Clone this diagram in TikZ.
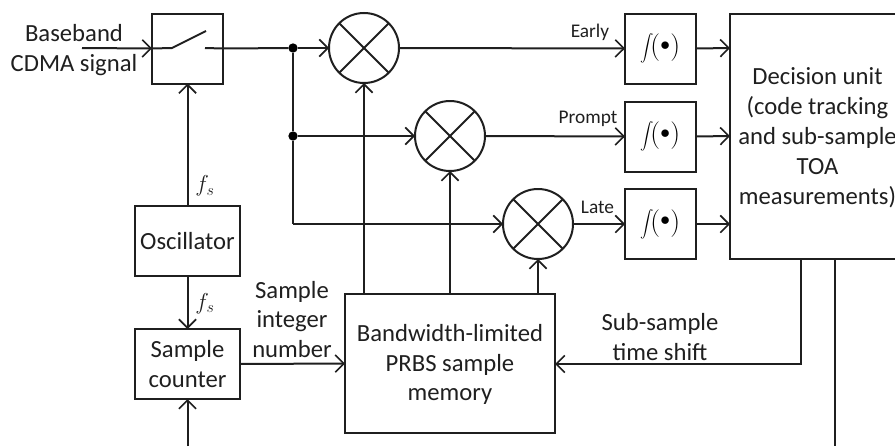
\documentclass[tikz,border=0pt]{standalone}
\usepackage{fontspec}
\setmainfont{Carlito}
\usetikzlibrary{arrows.meta}
\tikzset{
  x=0.75pt,y=-0.75pt,
  wire/.style={line width=1.5pt,draw=black!88},
  arr/.style={wire,-{Straight Barb[length=6.5pt,width=13pt,line width=1.2pt]}},
  blockbox/.style={draw=black!88,line width=1.5pt,minimum width=#1,inner sep=0pt,outer sep=0pt,align=center},
  mixer/.style={circle,draw=black!88,line width=1.5pt,minimum size=52.5pt,inner sep=0pt,outer sep=0pt},
  bigtext/.style={font=\fontsize{18.5}{22}\selectfont,text=black!88,align=center,inner sep=0pt},
  widetext/.style={font=\fontsize{18.5}{22.5}\selectfont,text=black!88,align=center,inner sep=0pt},
  smalltext/.style={font=\fontsize{14.5}{16}\selectfont,text=black!88,inner sep=0pt},
  dotn/.style={circle,fill=black,minimum size=7pt,inner sep=0pt,outer sep=0pt},
  fslabel/.style={text=black!88,inner sep=0pt,font=\fontsize{18}{22}\selectfont},
}
\newcommand{\integ}{{\fontsize{11}{12}\selectfont$\displaystyle\int$}\kern-3pt\raisebox{-2pt}{\fontsize{20}{20}\selectfont$($}\kern0.2pt\raisebox{1.5pt}{\scalebox{0.7}{\fontsize{20}{20}\selectfont$\bullet$}}\kern0.2pt\raisebox{-2pt}{\fontsize{20}{20}\selectfont$)$}}
\newcommand{\fsym}{$f_s$}
\begin{document}
\begin{tikzpicture}
\useasboundingbox (0,0) rectangle (895,446);
% blocks
\node[blockbox=53.25pt,minimum height=52.5pt] (sw) at (187.5,48.5) {};
\node[blockbox=78.75pt,minimum height=52.5pt,widetext] (osc) at (187.5,241) {Oscillator};
\node[blockbox=78.75pt,minimum height=52.5pt,widetext] (cnt) at (187.5,364) {Sample\\counter};
\node[blockbox=157.5pt,minimum height=104.25pt] (mem) at (450,363.5) {};
\node[bigtext] (memt) at (450,364.5) {Bandwidth-limited\\PRBS sample\\memory};
\node[blockbox=53.25pt,minimum height=52.5pt] (i1) at (660.5,48.5) {\integ};
\node[blockbox=53.25pt,minimum height=52.5pt] (i2) at (660.5,136.5) {\integ};
\node[blockbox=53.25pt,minimum height=52.5pt] (i3) at (660.5,224) {\integ};
% decision unit, open at the picture's right edge
\coordinate (dtr) at (895,14);
\coordinate (dtl) at (730,14);
\coordinate (dbl) at (730,258.5);
\coordinate (dbr) at (895,258.5);
\draw[wire] (dtr) -- (dtl) -- (dbl) -- (dbr);
\node[widetext] (dec) at (817.5,138) {Decision unit\\(code tracking\\and sub-sample\\TOA\\measurements)};
\coordinate (d1) at (730,48);
\coordinate (d2) at (730,136);
\coordinate (d3) at (730,224);
% mixers
\node[mixer] (m1) at (364,48) {};
\node[mixer] (m2) at (450,136) {};
\node[mixer] (m3) at (538,224) {};
\foreach \m in {m1,m2,m3}{
  \draw[wire] (\m.45) -- (\m.225);
  \draw[wire] (\m.135) -- (\m.315);
}
% switch
\coordinate (swin) at (172,48);
\coordinate (swarm) at (206,31);
\coordinate (swout) at (205,48);
\coordinate (inp) at (82,48);
\draw[wire] (sw.west) -- (swin) -- (swarm);
\draw[wire] (swout) -- (sw.east);
\draw[arr] (inp) -- (sw.west);
% input labels
\node[widetext] (bb) at (74,50) {Baseband\\CDMA signal};
% junctions
\node[dotn] (j1) at (293,48) {};
\node[dotn] (j2) at (293,136) {};
\coordinate (j3) at (293,224);
\draw[wire] (sw.east) -- (j1);
\draw[arr] (j1) -- (m1.west);
\draw[wire] (j1) -- (j2) -- (j3);
\draw[arr] (j2) -- (m2.west);
\draw[arr] (j3) -- (m3.west);
% to integrators
\draw[arr] (m1.east) -- (i1.west);
\draw[arr] (m2.east) -- (i2.west);
\draw[arr] (m3.east) -- (i3.west);
\draw[arr] (i1.east) -- (d1);
\draw[arr] (i2.east) -- (d2);
\draw[arr] (i3.east) -- (d3);
\node[smalltext] (le) at (590,32) {Early};
\node[smalltext] (lp) at (588,119) {Prompt};
\node[smalltext] (ll) at (597.5,207) {Late};
% clock
\draw[arr] (osc.north) -- (sw.south);
\draw[arr] (osc.south) -- (cnt.north);
\coordinate (cin) at (187.5,446);
\draw[arr] (cin) -- (cnt.south);
\node[fslabel] (f1) at (205,186) {\fsym};
\node[fslabel] (f2) at (205,303.5) {\fsym};
% memory
\draw[arr] (cnt.east) -- (mem.west);
\node[bigtext] (sin) at (292,319.5) {Sample\\integer\\number};
\draw[arr] (mem.north -| m1) -- (m1.south);
\draw[arr] (mem.north -| m2) -- (m2.south);
\draw[arr] (mem.north -| m3) -- (m3.south);
% feedback
\coordinate (fb1) at (800.5,258.5);
\coordinate (fb2) at (800.5,364);
\coordinate (fb3) at (835,258.5);
\coordinate (fb4) at (835,446);
\draw[arr] (fb1) -- (fb2) -- (mem.east |- fb2);
\draw[wire] (fb3) -- (fb4);
\node[widetext] (ssts) at (660,337) {Sub-sample\\time shift};
\end{tikzpicture}
\end{document}
